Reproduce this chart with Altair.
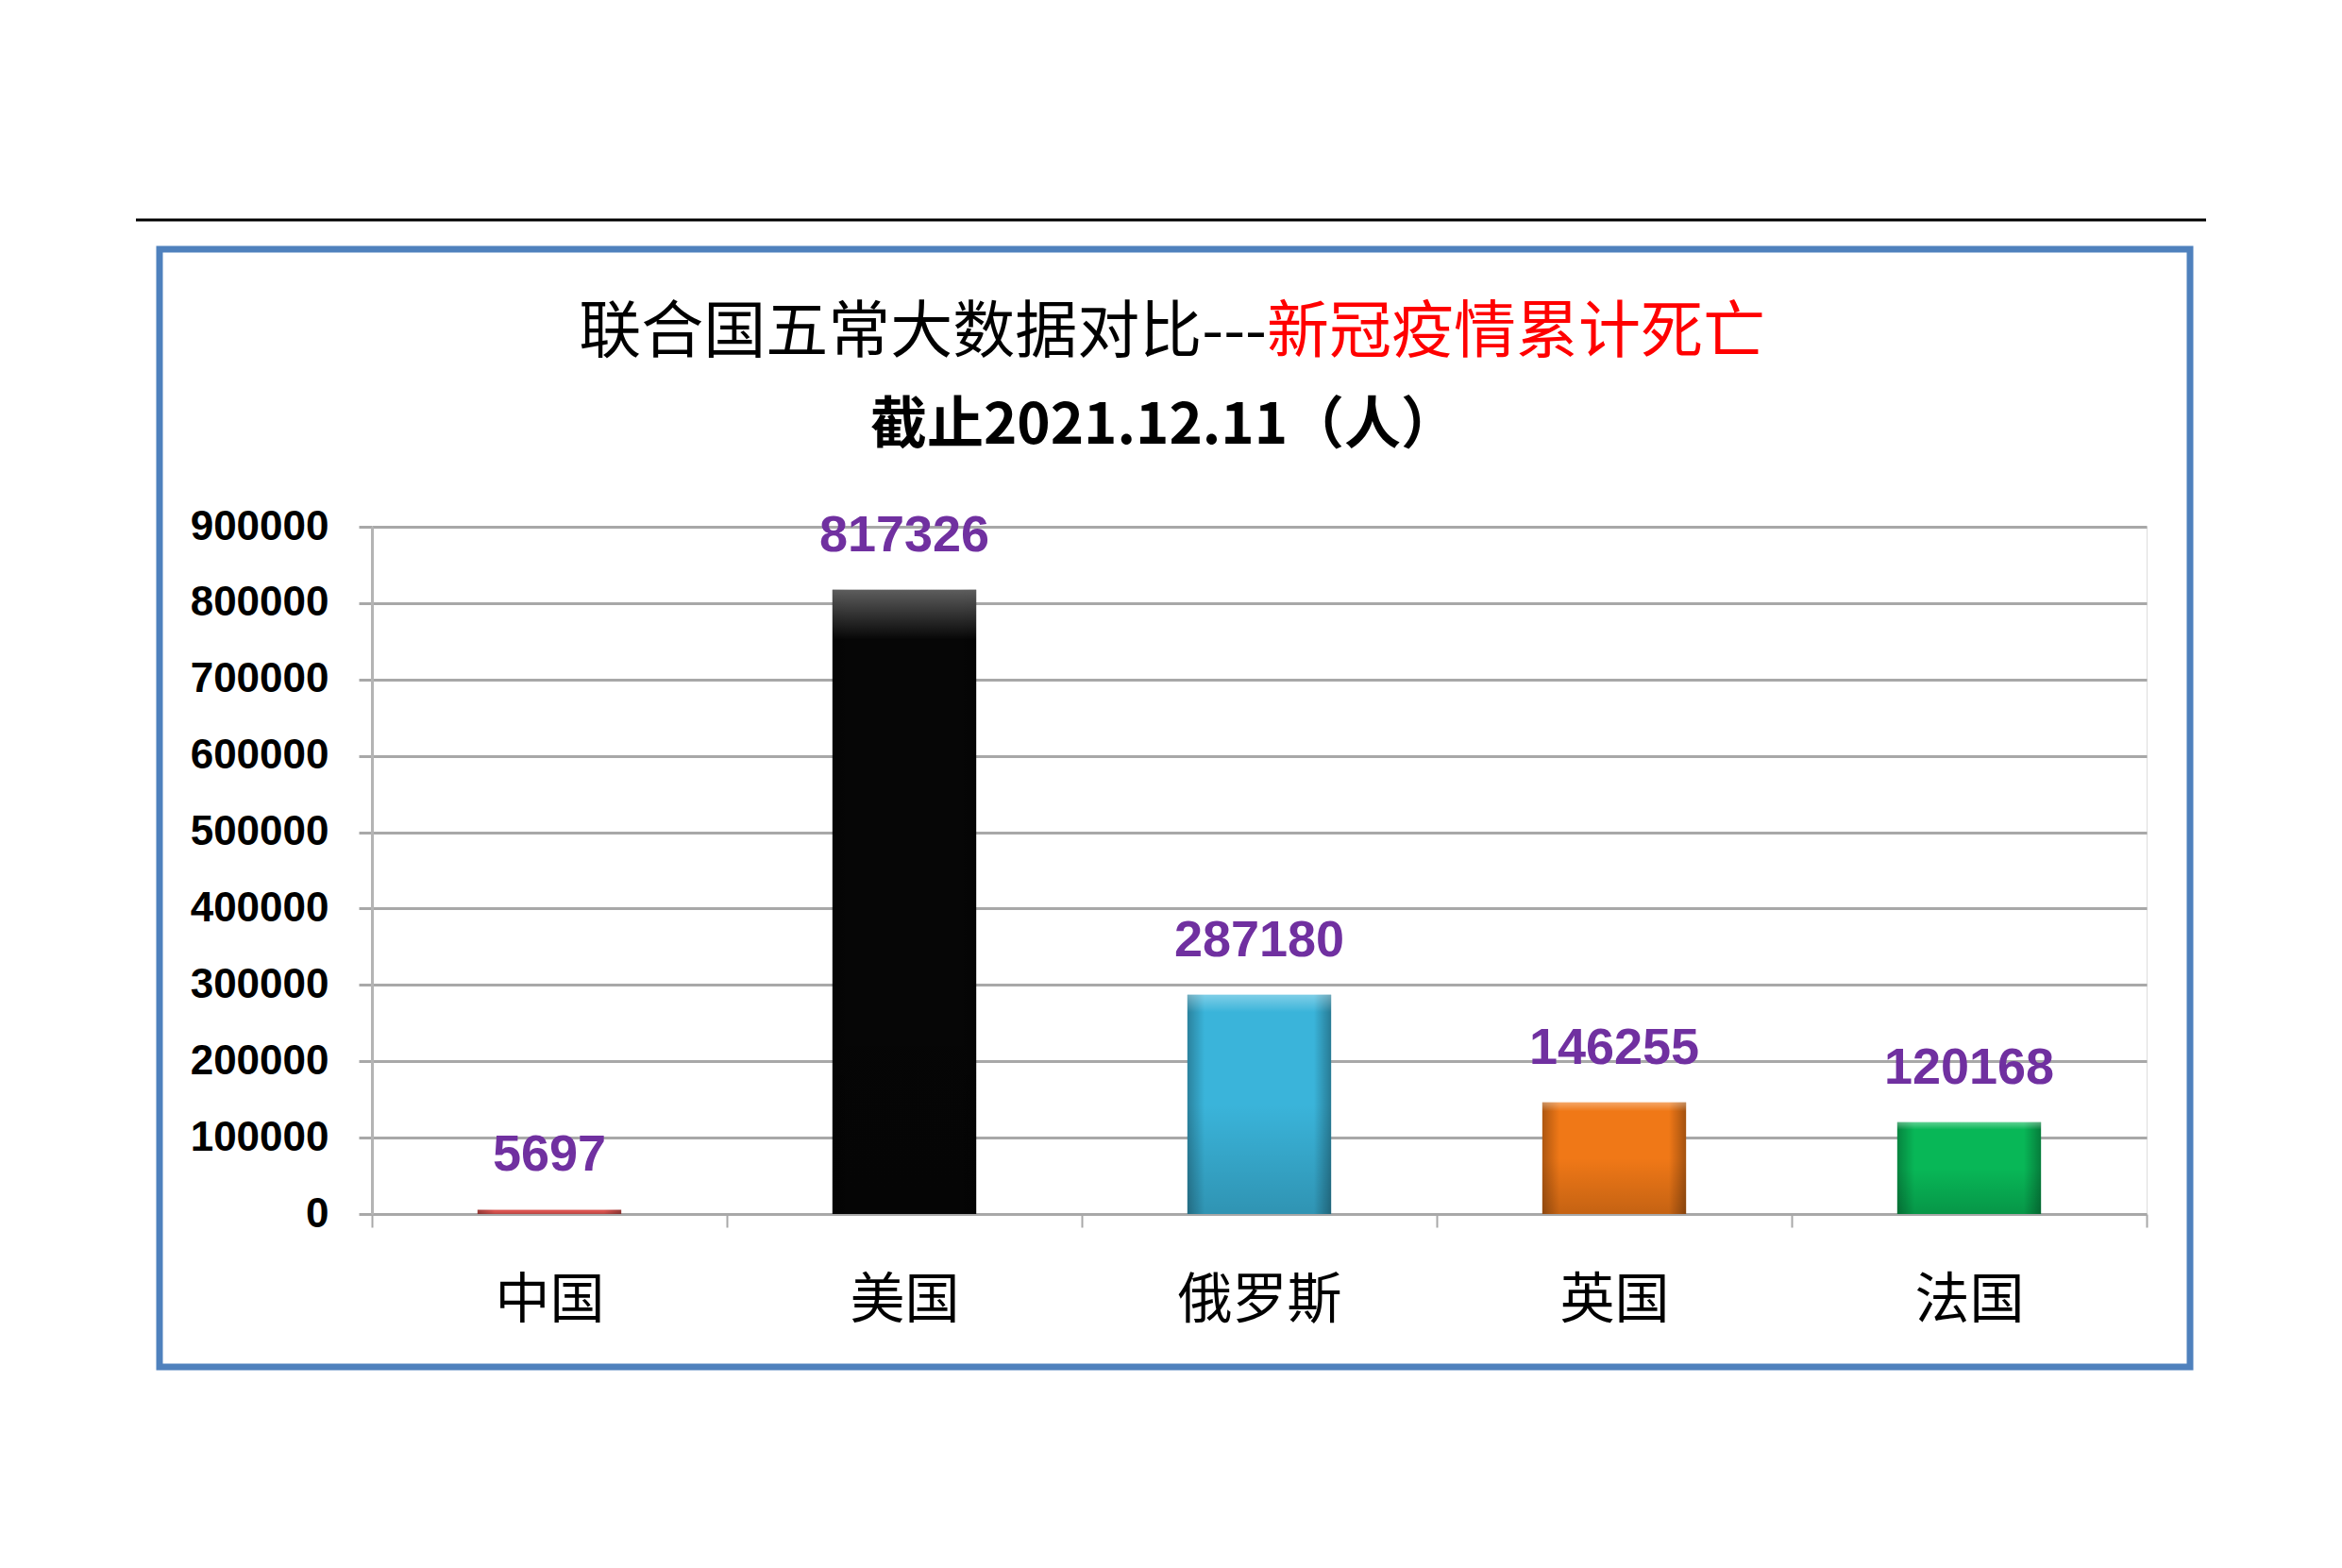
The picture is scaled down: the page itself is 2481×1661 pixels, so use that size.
import altair as alt
import pandas as pd

countries = ["中国", "美国", "俄罗斯", "英国", "法国"]
deaths = [5697, 817326, 287180, 146255, 120168]
bar_colors = ["#D9534F", "#060606", "#3AB4DA", "#F07817", "#08B757"]
y_ticks = [0, 100000, 200000, 300000, 400000, 500000, 600000, 700000, 800000, 900000]
title_black = "联合国五常大数据对比---"
title_red = "新冠疫情累计死亡"
subtitle = "截止2021.12.11（人）"

df = pd.DataFrame({"country": countries, "deaths": deaths, "color": bar_colors})
one = pd.DataFrame({"a": [0]})

W, H = 1880, 728
GRID = "#A8A8A8"
BAR_W = alt.RelativeBandSize(0.405)

x = alt.X(
    "country:N", sort=countries,
    scale=alt.Scale(paddingInner=0, paddingOuter=0),
    axis=alt.Axis(title=None, labelAngle=0, labelFont="Noto Sans CJK SC", labelFontSize=58,
                  labelColor="#000000", labelPadding=49, tickBand="extent", tickSize=14,
                  tickColor=GRID, tickWidth=2, domain=False, grid=False),
)
y = alt.Y(
    "deaths:Q", scale=alt.Scale(domain=[0, 900000], nice=False),
    axis=alt.Axis(title=None, values=y_ticks, format="d", labelFont="Liberation Sans",
                  labelFontSize=44, labelFontWeight="bold", labelColor="#000000",
                  labelPadding=32, tickSize=14, tickColor=GRID, tickWidth=3,
                  gridColor=GRID, gridWidth=3, domainColor="#B4B4B4", domainWidth=3),
)

bars = alt.Chart(df).mark_bar(width=BAR_W).encode(
    x=x, y=y, color=alt.Color("color:N", scale=None, legend=None))

shade_h = alt.Chart(df).mark_bar(
    width=BAR_W,
    fill=alt.Gradient(gradient="linear", x1=0, x2=1, y1=0, y2=0, stops=[
        alt.GradientStop(color="rgba(0,0,0,0.28)", offset=0),
        alt.GradientStop(color="rgba(0,0,0,0)", offset=0.12),
        alt.GradientStop(color="rgba(0,0,0,0)", offset=0.88),
        alt.GradientStop(color="rgba(0,0,0,0.32)", offset=1),
    ])
).encode(x=x, y=y)

shade_v = alt.Chart(df).mark_bar(
    width=BAR_W,
    fill=alt.Gradient(gradient="linear", x1=0, x2=0, y1=0, y2=1, stops=[
        alt.GradientStop(color="rgba(255,255,255,0.35)", offset=0),
        alt.GradientStop(color="rgba(255,255,255,0.0)", offset=0.08),
        alt.GradientStop(color="rgba(0,0,0,0.0)", offset=0.5),
        alt.GradientStop(color="rgba(0,0,0,0.18)", offset=1),
    ])
).encode(x=x, y=y)

labels = alt.Chart(df).mark_text(
    baseline="middle", dy=-57, font="Liberation Sans", fontSize=54, fontWeight="bold",
    color="#7030A0"
).encode(x=x, y=y, text=alt.Text("deaths:Q", format="d"))

top_line = alt.Chart(one).mark_rule(color="#000000", strokeWidth=3).encode(
    x=alt.value(-250), x2=alt.value(1943), y=alt.value(-325))

frame = alt.Chart(one).mark_rect(filled=False, stroke="#4F81BD", strokeWidth=7).encode(
    x=alt.value(-225), x2=alt.value(1926), y=alt.value(-294), y2=alt.value(890))

t1a = alt.Chart(one).mark_text(align="right", baseline="middle", font="Noto Sans CJK SC",
                               fontSize=66, color="#000000").encode(
    x=alt.value(948), y=alt.value(-205), text=alt.value(title_black))
t1b = alt.Chart(one).mark_text(align="left", baseline="middle", font="Noto Sans CJK SC",
                               fontSize=66, color="#FF0000").encode(
    x=alt.value(948), y=alt.value(-205), text=alt.value(title_red))
t2 = alt.Chart(one).mark_text(align="center", baseline="middle", font="Noto Sans CJK SC",
                              fontSize=60, fontWeight="bold", color="#000000").encode(
    x=alt.value(839), y=alt.value(-106), text=alt.value(subtitle))

chart = alt.layer(bars, shade_h, shade_v, labels, top_line, frame, t1a, t1b, t2).properties(
    width=W, height=H,
    padding={"left": 386, "top": 550, "right": 199, "bottom": 367},
    autosize=alt.AutoSizeParams(type="none"),
).configure_view(stroke=None).configure(background="white")

chart.save("out.html", embed_options={"renderer": "svg", "actions": False})
